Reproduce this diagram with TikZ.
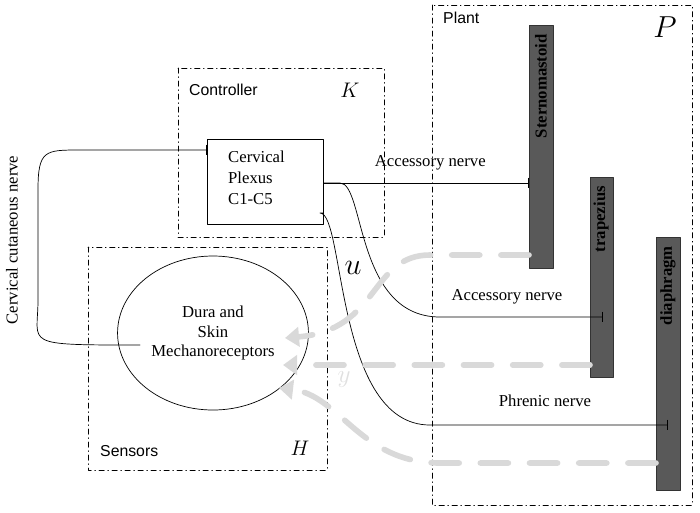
\documentclass[tikz,border=0pt]{standalone}
\usepackage{fontspec}
\setmainfont{Liberation Serif}
\newfontfamily\sansfam{Liberation Sans}
\usetikzlibrary{calc}
\usetikzlibrary{arrows.meta}
\usetikzlibrary{shapes.geometric}

\begin{document}
\begin{tikzpicture}[x=0.02cm, y=-0.02cm, line cap = round, line join = round, font=\fontsize{9.5}{11}\selectfont]
\tikzstyle{group}=[draw=black, dash dot, thin]
\tikzstyle{grouplabel}=[font=\sansfam\fontsize{9}{11}\selectfont, anchor=west]
\tikzstyle{muscle}=[fill=black!65, draw=black!80]
\tikzstyle{musclelabel}=[rotate=90, font=\bfseries\fontsize{9.5}{11}\selectfont, anchor=east]
\tikzstyle{nerve}=[thin, -{Bar[width=6pt]}]
\tikzstyle{feedback}=[line width=3.2pt, black!15, dash pattern=on 16pt off 12pt, -{Triangle[length=8pt,width=11pt]}]
\useasboundingbox (0,0) rectangle (700,512);

% groups
\draw[group] (432,5) rectangle (692,505);
\node[grouplabel] (plantlbl) at (437,18) {Plant};
\node[font=\itshape\fontsize{17}{17}\selectfont] (P) at (665,27) {$P$};
\draw[group] (178,68) rectangle (384,237);
\node[grouplabel] (ctrllbl) at (183,90) {Controller};
\node[font=\fontsize{13}{13}\selectfont] (K) at (350,90) {$K$};
\draw[group] (88,247) rectangle (327,470);
\node[grouplabel] (senslbl) at (94,451) {Sensors};
\node[font=\fontsize{13}{13}\selectfont] (H) at (300,448) {$H$};

% muscles
\draw[muscle] (529,25) rectangle (553,268);
\node[musclelabel] (stern) at (541,28) {Sternomastoid};
\draw[muscle] (590,177) rectangle (613,377);
\node[musclelabel] (trap) at (601,180) {trapezius};
\draw[muscle] (656,237) rectangle (680,490);
\node[musclelabel] (diaph) at (668,240) {diaphragm};

% controller and sensors
\node[draw, minimum width=116*0.02cm, minimum height=85*0.02cm, inner sep=0pt] (plexus) at (265,182) {};
\node[align=left, anchor=west] (plexustxt) at (222,178) {Cervical\\[1pt]Plexus\\[1pt]C1-C5};
\node[draw, ellipse, minimum width=166*0.02cm, minimum height=154*0.02cm, align=center] (mech) at (213,333) {Dura and\\Skin\\Mechanoreceptors};

\coordinate (accA) at (529,183);
\coordinate (accB) at (603,317);
\coordinate (phren) at (668,425);
\coordinate (plexin) at (207,150);

% nerves
\draw[nerve] (plexus.east |- 0,183) -- (accA) node[pos=0.52, above=4pt] (acc1lbl) {Accessory nerve};
\draw[nerve] (plexus.east |- 0,183) -- (340,183) .. controls (365,183) and (355,317) .. (440,317) -- (accB);
\node (acc2lbl) at (507,297) {Accessory nerve};
\draw[nerve] (plexus.east |- 0,213) -- (320,213) .. controls (345,213) and (335,425) .. (430,425) -- (phren);
\node (phrenlbl) at (545,401) {Phrenic nerve};
\draw[nerve] (mech.west |- 0,345) -- (140,345) .. controls (20,345) and (38,345) .. (38,300)
  -- (38,190) .. controls (38,150) and (45,150) .. (80,150) -- (plexin);
\node[rotate=90] (cutlbl) at (12,240) {Cervical cutaneous nerve};
\node[font=\itshape\fontsize{16}{16}\selectfont] (u) at (353,268) {$u$};
\node[text=black!12, font=\itshape\fontsize{14}{14}\selectfont] (y) at (344,380) {$y$};

% feedback
\draw[feedback] (529,255) -- (430,255) .. controls (370,255) and (380,330) .. (285,338);
\draw[feedback] (590,365) -- (283,365);
\draw[feedback] (656,463) -- (440,463) .. controls (360,463) and (340,395) .. (279,388);
\end{tikzpicture}
\end{document}
